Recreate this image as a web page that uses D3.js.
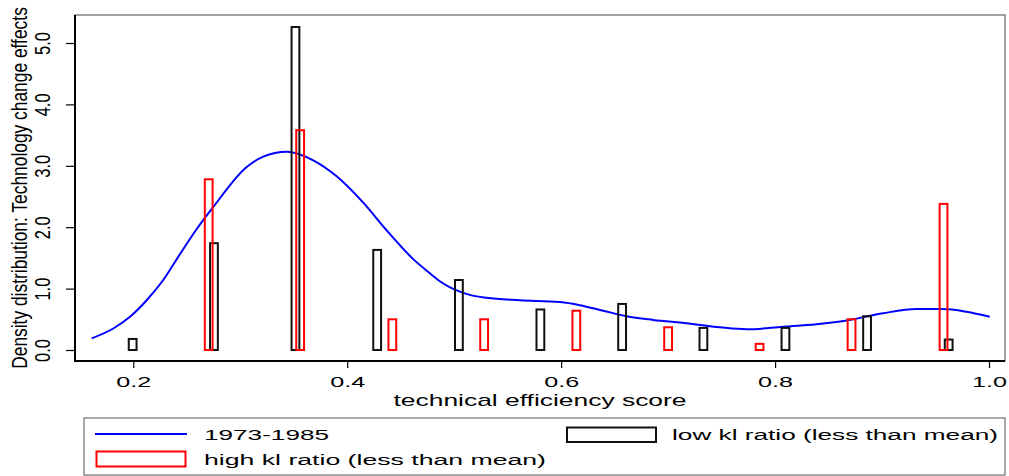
<!DOCTYPE html>
<html>
<head>
<meta charset="utf-8">
<script src="https://cdn.jsdelivr.net/npm/d3@7"></script>
<style>
  body { margin: 0; background: #fff; }
  svg { display: block; }
  text { font-family: "Liberation Sans", Arial, sans-serif; fill: #000; }
</style>
</head>
<body>
<div id="chart"></div>
<script>
// tick labels
var xTicks = [0.2, 0.4, 0.6, 0.8, 1.0];
var yTicks = [0, 1, 2, 3, 4, 5];

// low kl ratio bars (black)
var lowPos = [0.1994, 0.2754, 0.3516, 0.428, 0.5044, 0.5806, 0.657, 0.733, 0.8097, 0.886, 0.9623];
var lowVal = [0.18, 1.74, 5.26, 1.63, 1.14, 0.66, 0.75, 0.36, 0.36, 0.55, 0.17];

// high kl ratio bars (red)
var highPos = [0.2705, 0.356, 0.4422, 0.528, 0.6142, 0.700, 0.7855, 0.8715, 0.9575];
var highVal = [2.78, 3.58, 0.50, 0.50, 0.64, 0.37, 0.10, 0.50, 2.38];

// 1973-1985 density curve
var densX = [0.1611, 0.1813, 0.1969, 0.2125, 0.2280, 0.2436, 0.2593, 0.2748, 0.3060, 0.3215, 0.3434,
             0.3682, 0.3901, 0.4150, 0.4368, 0.4617, 0.4773, 0.4866, 0.5053, 0.5163, 0.5303, 0.5614,
             0.5988, 0.6175, 0.6393, 0.6611, 0.6860, 0.7172, 0.7483, 0.7733, 0.8075, 0.8387, 0.8698,
             0.9009, 0.9321, 0.9570, 0.9789, 1.0007];
var densY = [0.19, 0.35, 0.54, 0.81, 1.14, 1.56, 1.97, 2.33, 2.98, 3.15, 3.23,
             3.09, 2.83, 2.40, 1.95, 1.48, 1.25, 1.12, 0.95, 0.89, 0.85, 0.81,
             0.78, 0.73, 0.64, 0.55, 0.49, 0.435, 0.37, 0.337, 0.379, 0.419, 0.489,
             0.598, 0.668, 0.668, 0.624, 0.542];

var legendLabels = ["1973-1985", "low kl ratio (less than mean)", "high kl ratio (less than mean)"];
var xTitle = "technical efficiency score";
var yTitle = "Density distribution: Technology change effects";

var W = 1009, H = 476;
var frame = { left: 75, top: 15, right: 1005, bottom: 361 };

var svg = d3.select("#chart").append("svg")
    .attr("width", W).attr("height", H);

var x = d3.scaleLinear().domain([0.2, 1.0]).range([133.3, 989]);
var y = d3.scaleLinear().domain([0, 5]).range([350, 43]);

// plot region outline
svg.append("rect")
    .attr("x", frame.left).attr("y", frame.top)
    .attr("width", frame.right - frame.left).attr("height", frame.bottom - frame.top)
    .attr("fill", "none").attr("stroke", "#666").attr("stroke-width", 1.2);

// density line
var line = d3.line()
    .x(function(d) { return x(d[0]); })
    .y(function(d) { return y(d[1]); })
    .curve(d3.curveMonotoneX);

svg.append("path")
    .datum(d3.zip(densX, densY))
    .attr("d", line)
    .attr("fill", "none")
    .attr("stroke", "#0000ff")
    .attr("stroke-width", 2);

var bw = 7.8;

function drawBars(pos, val, color, cls) {
    svg.selectAll("." + cls)
        .data(d3.zip(pos, val))
        .enter().append("rect")
        .attr("class", cls)
        .attr("x", function(d) { return x(d[0]) - bw / 2; })
        .attr("y", function(d) { return y(d[1]); })
        .attr("width", bw)
        .attr("height", function(d) { return y(0) - y(d[1]); })
        .attr("fill", "none")
        .attr("stroke", color)
        .attr("stroke-width", 2);
}
drawBars(lowPos, lowVal, "#111", "low-bar");
drawBars(highPos, highVal, "#ff0000", "high-bar");

// y axis
var yAxis = svg.append("g")
    .attr("transform", "translate(" + frame.left + ",0)")
    .call(d3.axisLeft(y).tickValues(yTicks).tickSize(9).tickFormat(d3.format(".1f")));
yAxis.select(".domain").remove();
yAxis.selectAll(".tick line").attr("stroke", "#000").attr("stroke-width", 1.2);
yAxis.selectAll(".tick text")
    .attr("x", null).attr("dy", null)
    .attr("transform", "translate(-25,0) scale(1.3,1) rotate(-90)")
    .attr("text-anchor", "middle")
    .style("font-size", "16.5px");

// x axis
var xAxis = svg.append("g")
    .attr("transform", "translate(0," + frame.bottom + ")")
    .call(d3.axisBottom(x).tickValues(xTicks).tickSize(7).tickFormat(d3.format(".1f")));
xAxis.select(".domain").remove();
xAxis.selectAll(".tick line").attr("stroke", "#000").attr("stroke-width", 1.2);
xAxis.selectAll(".tick text")
    .attr("y", 26).attr("dy", null)
    .attr("textLength", 35).attr("lengthAdjust", "spacingAndGlyphs")
    .style("font-size", "15px");

// axis lines
svg.append("line")
    .attr("x1", frame.left).attr("x2", frame.left)
    .attr("y1", frame.top).attr("y2", frame.bottom + 1)
    .attr("stroke", "#000").attr("stroke-width", 2);
svg.append("line")
    .attr("x1", frame.left - 1).attr("x2", frame.right)
    .attr("y1", frame.bottom).attr("y2", frame.bottom)
    .attr("stroke", "#000").attr("stroke-width", 2);

// axis titles
svg.append("text")
    .attr("x", (frame.left + frame.right) / 2).attr("y", 406)
    .attr("text-anchor", "middle")
    .attr("textLength", 293).attr("lengthAdjust", "spacingAndGlyphs")
    .style("font-size", "17px")
    .text(xTitle);

svg.append("text")
    .attr("transform", "translate(27," + (frame.top + frame.bottom) / 2 + ") scale(1.3,1) rotate(-90)")
    .attr("text-anchor", "middle")
    .style("font-size", "17.4px")
    .text(yTitle);

// legend
var lg = svg.append("g");
lg.append("rect")
    .attr("x", 84).attr("y", 418).attr("width", 921).attr("height", 57)
    .attr("fill", "#fff").attr("stroke", "#555").attr("stroke-width", 1);

lg.append("line")
    .attr("x1", 95).attr("x2", 187).attr("y1", 434).attr("y2", 434)
    .attr("stroke", "#0000ff").attr("stroke-width", 2);
lg.append("text")
    .attr("x", 204).attr("y", 440)
    .attr("textLength", 125).attr("lengthAdjust", "spacingAndGlyphs")
    .style("font-size", "15.5px")
    .text(legendLabels[0]);

lg.append("rect")
    .attr("x", 567).attr("y", 427.5).attr("width", 89).attr("height", 14.5)
    .attr("fill", "none").attr("stroke", "#111").attr("stroke-width", 2);
lg.append("text")
    .attr("x", 672).attr("y", 440)
    .attr("textLength", 326).attr("lengthAdjust", "spacingAndGlyphs")
    .style("font-size", "15.5px")
    .text(legendLabels[1]);

lg.append("rect")
    .attr("x", 96.5).attr("y", 451.5).attr("width", 89).attr("height", 15)
    .attr("fill", "none").attr("stroke", "#ff0000").attr("stroke-width", 2);
lg.append("text")
    .attr("x", 204).attr("y", 465)
    .attr("textLength", 342).attr("lengthAdjust", "spacingAndGlyphs")
    .style("font-size", "15.5px")
    .text(legendLabels[2]);
</script>
</body>
</html>
